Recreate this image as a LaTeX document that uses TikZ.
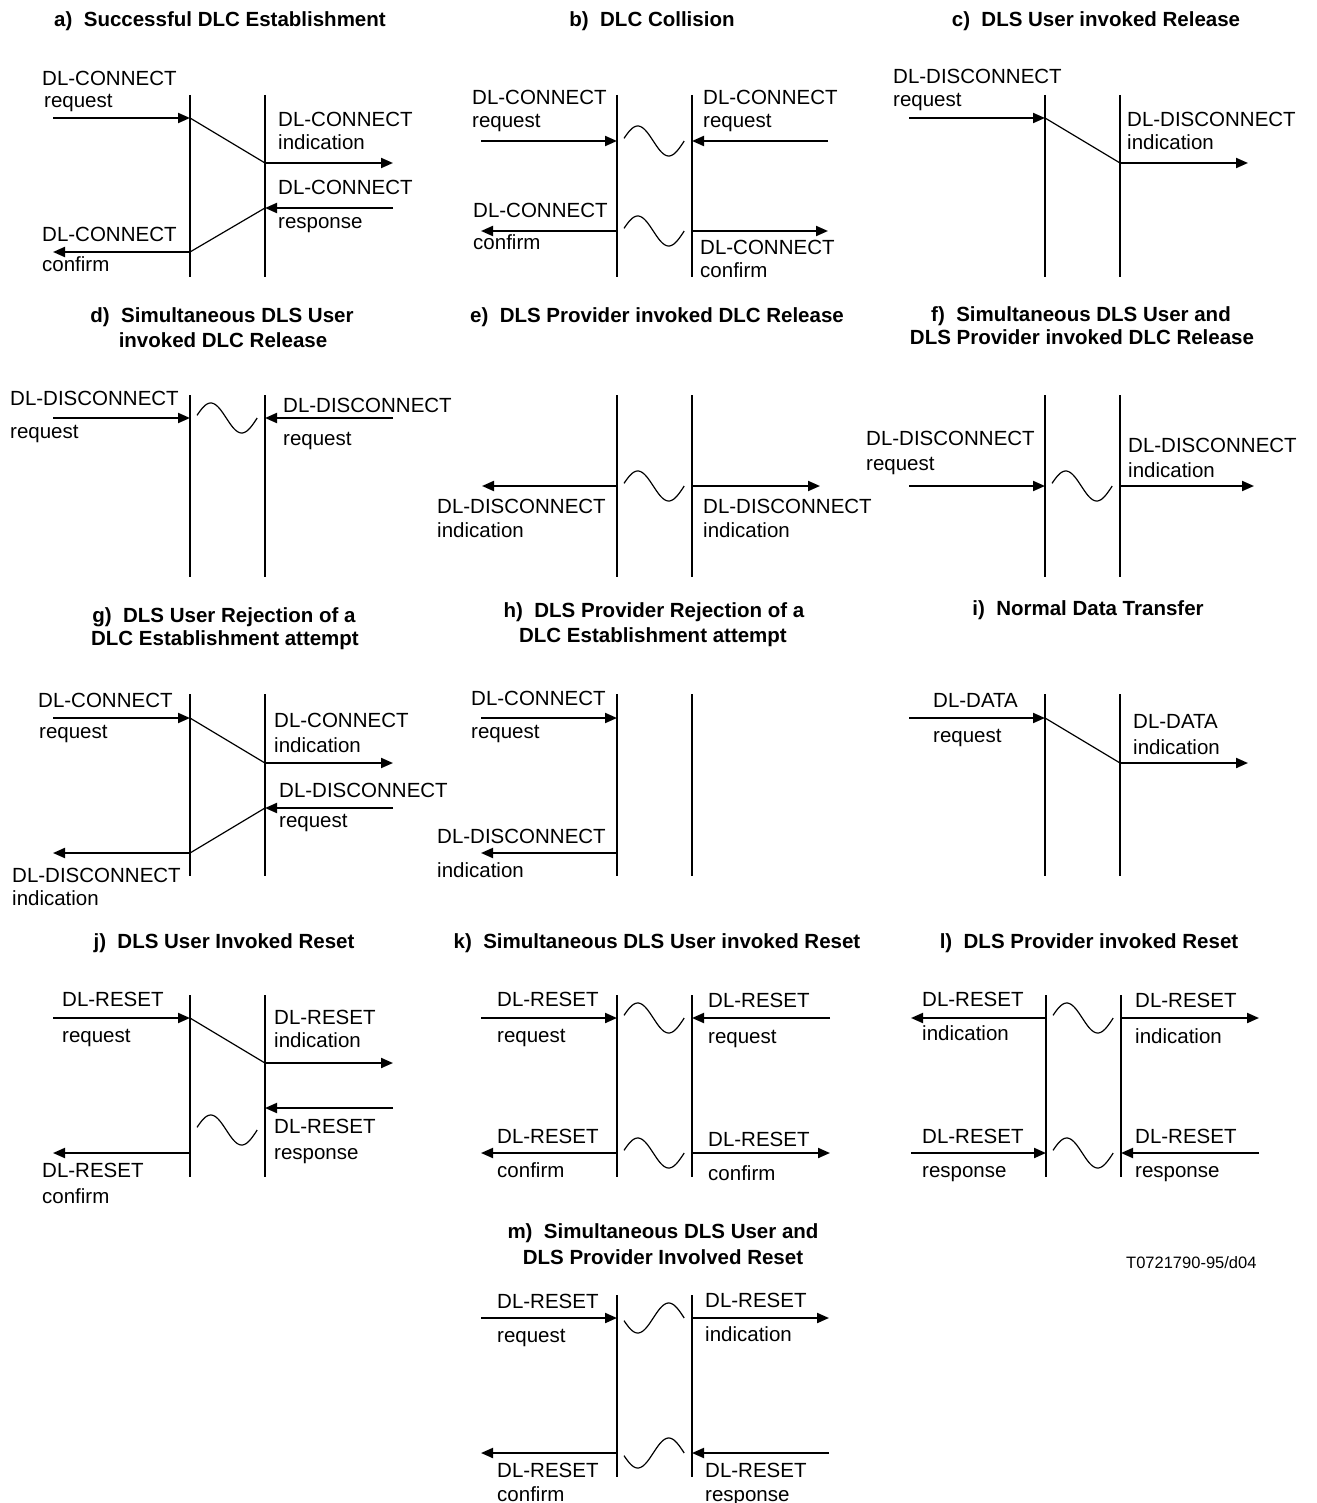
\documentclass[tikz,border=0pt]{standalone}
\usepackage{fontspec}
\setmainfont{Liberation Sans}
\usetikzlibrary{arrows.meta}
\tikzset{
  life/.style={line width=2pt},
  msg/.style={line width=2pt,-{Triangle[length=12pt,width=10pt]}},
  diag/.style={line width=1.2pt},
  wave/.style={line width=1.2pt},
  lbl/.style={anchor=base west,inner sep=0pt,font=\fontsize{20.5}{24}\selectfont},
  ttl/.style={anchor=base,inner sep=0pt,font=\bfseries\fontsize{20.5}{24}\selectfont},
  refno/.style={anchor=base west,inner sep=0pt,font=\fontsize{16.5}{20}\selectfont}
}
\newcommand\lifes[5]{%
  \coordinate (#1Lt) at (#2,#4); \coordinate (#1Lb) at (#2,#5);
  \coordinate (#1Rt) at (#3,#4); \coordinate (#1Rb) at (#3,#5);
  \draw[life] (#1Lt)--(#1Lb); \draw[life] (#1Rt)--(#1Rb);}
\newcommand\wv[3]{\draw[wave] plot[domain=10:360,samples=60,smooth] ({#1+(\x-10)*0.172},{#2-#3*15*sin(\x)});}
\begin{document}
\begin{tikzpicture}[x=1pt,y=-1pt]
\useasboundingbox (0,0) rectangle (1316,1503);
\fill[white] (0,0) rectangle (1316,1503);

% ---------- a ----------
\node[ttl] (aT) at (220,27) {a)\ \ Successful DLC Establishment};
\lifes{a}{190}{265}{95}{277}
\coordinate (a1) at (53,118); \coordinate (a2) at (190,118);
\coordinate (a3) at (265,163); \coordinate (a4) at (393,163);
\coordinate (a5) at (393,208); \coordinate (a6) at (265,208);
\coordinate (a7) at (190,252); \coordinate (a8) at (53,252);
\draw[msg] (a1)--(a2); \draw[diag] (a2)--(a3); \draw[msg] (a3)--(a4);
\draw[msg] (a5)--(a6); \draw[diag] (a6)--(a7); \draw[msg] (a7)--(a8);
\node[lbl] (at1) at (42,86) {DL-CONNECT};
\node[lbl] (at2) at (44,108) {request};
\node[lbl] (at3) at (278,127) {DL-CONNECT};
\node[lbl] (at4) at (278,150) {indication};
\node[lbl] (at5) at (278,195) {DL-CONNECT};
\node[lbl] (at6) at (278,229) {response};
\node[lbl] (at7) at (42,242) {DL-CONNECT};
\node[lbl] (at8) at (42,272) {confirm};

% ---------- b ----------
\node[ttl] (bT) at (652,27) {b)\ \ DLC Collision};
\lifes{b}{617}{692}{95}{277}
\coordinate (b1) at (481,141); \coordinate (b2) at (617,141);
\coordinate (b3) at (828,141); \coordinate (b4) at (692,141);
\coordinate (b5) at (617,231); \coordinate (b6) at (481,231);
\coordinate (b7) at (692,231); \coordinate (b8) at (828,231);
\draw[msg] (b1)--(b2); \draw[msg] (b3)--(b4);
\draw[msg] (b5)--(b6); \draw[msg] (b7)--(b8);
\wv{624}{141}{1} \wv{624}{231}{1}
\node[lbl] (bt1) at (472,105) {DL-CONNECT};
\node[lbl] (bt2) at (472,128) {request};
\node[lbl] (bt3) at (703,105) {DL-CONNECT};
\node[lbl] (bt4) at (703,128) {request};
\node[lbl] (bt5) at (473,218) {DL-CONNECT};
\node[lbl] (bt6) at (473,250) {confirm};
\node[lbl] (bt7) at (700,255) {DL-CONNECT};
\node[lbl] (bt8) at (700,278) {confirm};

% ---------- c ----------
\node[ttl] (cT) at (1096,27) {c)\ \ DLS User invoked Release};
\lifes{c}{1045}{1120}{95}{277}
\coordinate (c1) at (909,118); \coordinate (c2) at (1045,118);
\coordinate (c3) at (1120,163); \coordinate (c4) at (1248,163);
\draw[msg] (c1)--(c2); \draw[diag] (c2)--(c3); \draw[msg] (c3)--(c4);
\node[lbl] (ct1) at (893,84) {DL-DISCONNECT};
\node[lbl] (ct2) at (893,107) {request};
\node[lbl] (ct3) at (1127,127) {DL-DISCONNECT};
\node[lbl] (ct4) at (1127,150) {indication};

% ---------- d ----------
\node[ttl] (dT1) at (222,322) {d)\ \ Simultaneous DLS User};
\node[ttl] (dT2) at (223,347) {invoked DLC Release};
\lifes{d}{190}{265}{395}{577}
\coordinate (d1) at (53,418); \coordinate (d2) at (190,418);
\coordinate (d3) at (393,418); \coordinate (d4) at (265,418);
\draw[msg] (d1)--(d2); \draw[msg] (d3)--(d4);
\wv{197}{418}{1}
\node[lbl] (dt1) at (10,405) {DL-DISCONNECT};
\node[lbl] (dt2) at (10,438) {request};
\node[lbl] (dt3) at (283,412) {DL-DISCONNECT};
\node[lbl] (dt4) at (283,445) {request};

% ---------- e ----------
\node[ttl] (eT) at (657,322) {e)\ \ DLS Provider invoked DLC Release};
\lifes{e}{617}{692}{395}{577}
\coordinate (e1) at (617,486); \coordinate (e2) at (482,486);
\coordinate (e3) at (692,486); \coordinate (e4) at (820,486);
\draw[msg] (e1)--(e2); \draw[msg] (e3)--(e4);
\wv{624}{486}{1}
\node[lbl] (et1) at (437,513) {DL-DISCONNECT};
\node[lbl] (et2) at (437,537) {indication};
\node[lbl] (et3) at (703,513) {DL-DISCONNECT};
\node[lbl] (et4) at (703,537) {indication};

% ---------- f ----------
\node[ttl] (fT1) at (1081,321) {f)\ \ Simultaneous DLS User and};
\node[ttl] (fT2) at (1082,344) {DLS Provider invoked DLC Release};
\lifes{f}{1045}{1120}{395}{577}
\coordinate (f1) at (909,486); \coordinate (f2) at (1045,486);
\coordinate (f3) at (1120,486); \coordinate (f4) at (1254,486);
\draw[msg] (f1)--(f2); \draw[msg] (f3)--(f4);
\wv{1052}{486}{1}
\node[lbl] (ft1) at (866,445) {DL-DISCONNECT};
\node[lbl] (ft2) at (866,470) {request};
\node[lbl] (ft3) at (1128,452) {DL-DISCONNECT};
\node[lbl] (ft4) at (1128,477) {indication};

% ---------- g ----------
\node[ttl] (gT1) at (224,622) {g)\ \ DLS User Rejection of a};
\node[ttl] (gT2) at (225,645) {DLC Establishment attempt};
\lifes{g}{190}{265}{694}{876}
\coordinate (g1) at (53,718); \coordinate (g2) at (190,718);
\coordinate (g3) at (265,763); \coordinate (g4) at (393,763);
\coordinate (g5) at (393,808); \coordinate (g6) at (265,808);
\coordinate (g7) at (190,853); \coordinate (g8) at (53,853);
\draw[msg] (g1)--(g2); \draw[diag] (g2)--(g3); \draw[msg] (g3)--(g4);
\draw[msg] (g5)--(g6); \draw[diag] (g6)--(g7); \draw[msg] (g7)--(g8);
\node[lbl] (gt1) at (38,707) {DL-CONNECT};
\node[lbl] (gt2) at (39,738) {request};
\node[lbl] (gt3) at (274,727) {DL-CONNECT};
\node[lbl] (gt4) at (274,752) {indication};
\node[lbl] (gt5) at (279,797) {DL-DISCONNECT};
\node[lbl] (gt6) at (279,827) {request};
\node[lbl] (gt7) at (12,882) {DL-DISCONNECT};
\node[lbl] (gt8) at (12,905) {indication};

% ---------- h ----------
\node[ttl] (hT1) at (654,617) {h)\ \ DLS Provider Rejection of a};
\node[ttl] (hT2) at (653,642) {DLC Establishment attempt};
\lifes{h}{617}{692}{694}{876}
\coordinate (h1) at (481,718); \coordinate (h2) at (617,718);
\coordinate (h3) at (617,853); \coordinate (h4) at (481,853);
\draw[msg] (h1)--(h2); \draw[msg] (h3)--(h4);
\node[lbl] (ht1) at (471,705) {DL-CONNECT};
\node[lbl] (ht2) at (471,738) {request};
\node[lbl] (ht3) at (437,843) {DL-DISCONNECT};
\node[lbl] (ht4) at (437,877) {indication};

% ---------- i ----------
\node[ttl] (iT) at (1088,615) {i)\ \ Normal Data Transfer};
\lifes{i}{1045}{1120}{694}{876}
\coordinate (i1) at (909,718); \coordinate (i2) at (1045,718);
\coordinate (i3) at (1120,763); \coordinate (i4) at (1248,763);
\draw[msg] (i1)--(i2); \draw[diag] (i2)--(i3); \draw[msg] (i3)--(i4);
\node[lbl] (it1) at (933,707) {DL-DATA};
\node[lbl] (it2) at (933,742) {request};
\node[lbl] (it3) at (1133,728) {DL-DATA};
\node[lbl] (it4) at (1133,754) {indication};

% ---------- j ----------
\node[ttl] (jT) at (224,948) {j)\ \ DLS User Invoked Reset};
\lifes{j}{190}{265}{995}{1177}
\coordinate (j1) at (53,1018); \coordinate (j2) at (190,1018);
\coordinate (j3) at (265,1063); \coordinate (j4) at (393,1063);
\coordinate (j5) at (393,1108); \coordinate (j6) at (265,1108);
\coordinate (j7) at (190,1153); \coordinate (j8) at (53,1153);
\draw[msg] (j1)--(j2); \draw[diag] (j2)--(j3); \draw[msg] (j3)--(j4);
\draw[msg] (j5)--(j6); \draw[msg] (j7)--(j8);
\wv{197}{1130}{1}
\node[lbl] (jt1) at (62,1006) {DL-RESET};
\node[lbl] (jt2) at (62,1042) {request};
\node[lbl] (jt3) at (274,1024) {DL-RESET};
\node[lbl] (jt4) at (274,1047) {indication};
\node[lbl] (jt5) at (274,1133) {DL-RESET};
\node[lbl] (jt6) at (274,1159) {response};
\node[lbl] (jt7) at (42,1177) {DL-RESET};
\node[lbl] (jt8) at (42,1203) {confirm};

% ---------- k ----------
\node[ttl] (kT) at (657,948) {k)\ \ Simultaneous DLS User invoked Reset};
\lifes{k}{617}{692}{995}{1177}
\coordinate (k1) at (481,1018); \coordinate (k2) at (617,1018);
\coordinate (k3) at (830,1018); \coordinate (k4) at (692,1018);
\coordinate (k5) at (617,1153); \coordinate (k6) at (481,1153);
\coordinate (k7) at (692,1153); \coordinate (k8) at (830,1153);
\draw[msg] (k1)--(k2); \draw[msg] (k3)--(k4);
\draw[msg] (k5)--(k6); \draw[msg] (k7)--(k8);
\wv{624}{1018}{1} \wv{624}{1153}{1}
\node[lbl] (kt1) at (497,1006) {DL-RESET};
\node[lbl] (kt2) at (497,1042) {request};
\node[lbl] (kt3) at (708,1007) {DL-RESET};
\node[lbl] (kt4) at (708,1043) {request};
\node[lbl] (kt5) at (497,1143) {DL-RESET};
\node[lbl] (kt6) at (497,1177) {confirm};
\node[lbl] (kt7) at (708,1146) {DL-RESET};
\node[lbl] (kt8) at (708,1180) {confirm};

% ---------- l ----------
\node[ttl] (lT) at (1089,948) {l)\ \ DLS Provider invoked Reset};
\lifes{l}{1046}{1121}{995}{1177}
\coordinate (l1) at (1046,1018); \coordinate (l2) at (911,1018);
\coordinate (l3) at (1121,1018); \coordinate (l4) at (1259,1018);
\coordinate (l5) at (911,1153); \coordinate (l6) at (1046,1153);
\coordinate (l7) at (1259,1153); \coordinate (l8) at (1121,1153);
\draw[msg] (l1)--(l2); \draw[msg] (l3)--(l4);
\draw[msg] (l5)--(l6); \draw[msg] (l7)--(l8);
\wv{1053}{1018}{1} \wv{1053}{1153}{1}
\node[lbl] (lt1) at (922,1006) {DL-RESET};
\node[lbl] (lt2) at (922,1040) {indication};
\node[lbl] (lt3) at (1135,1007) {DL-RESET};
\node[lbl] (lt4) at (1135,1043) {indication};
\node[lbl] (lt5) at (922,1143) {DL-RESET};
\node[lbl] (lt6) at (922,1177) {response};
\node[lbl] (lt7) at (1135,1143) {DL-RESET};
\node[lbl] (lt8) at (1135,1177) {response};

% ---------- m ----------
\node[ttl] (mT1) at (663,1238) {m)\ \ Simultaneous DLS User and};
\node[ttl] (mT2) at (663,1264) {DLS Provider Involved Reset};
\lifes{m}{617}{692}{1295}{1477}
\coordinate (m1) at (481,1318); \coordinate (m2) at (617,1318);
\coordinate (m3) at (692,1318); \coordinate (m4) at (829,1318);
\coordinate (m5) at (617,1453); \coordinate (m6) at (481,1453);
\coordinate (m7) at (829,1453); \coordinate (m8) at (692,1453);
\draw[msg] (m1)--(m2); \draw[msg] (m3)--(m4);
\draw[msg] (m5)--(m6); \draw[msg] (m7)--(m8);
\wv{624}{1318}{-1} \wv{624}{1453}{-1}
\node[lbl] (mt1) at (497,1308) {DL-RESET};
\node[lbl] (mt2) at (497,1342) {request};
\node[lbl] (mt3) at (705,1307) {DL-RESET};
\node[lbl] (mt4) at (705,1341) {indication};
\node[lbl] (mt5) at (497,1477) {DL-RESET};
\node[lbl] (mt6) at (497,1501) {confirm};
\node[lbl] (mt7) at (705,1477) {DL-RESET};
\node[lbl] (mt8) at (705,1501) {response};

\node[refno] (ref) at (1126,1268) {T0721790-95/d04};
\end{tikzpicture}
\end{document}
